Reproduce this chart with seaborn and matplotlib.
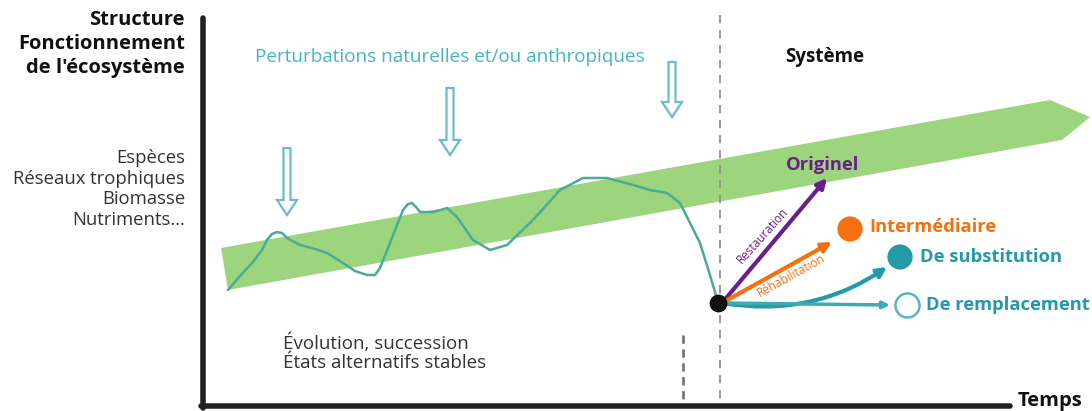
import numpy as np
import pandas as pd
import matplotlib
matplotlib.use("Agg")
import matplotlib.pyplot as plt
import matplotlib.patches as patches
import seaborn as sns

# Diagram data (picture coordinates, y grows downwards)
curve_x = [228, 240, 253, 262, 267, 272, 277, 282, 287, 300, 315, 327, 343, 355, 367, 375, 380, 390,
           403, 408, 412, 416, 420, 433, 441, 447, 457, 473, 490, 507, 533, 560, 583, 607, 633, 650,
           667, 680, 690, 700, 709, 718]
curve_y = [290, 276, 262, 250, 240, 234, 232, 233, 238, 245, 249, 253, 263, 271, 275, 275, 268, 243,
           210, 204, 203, 207, 212, 212, 210, 208, 217, 240, 250, 245, 220, 190, 178, 178, 185, 190,
           193, 203, 223, 243, 272, 302]

band_x = [221, 1050, 1090, 1062, 228]
band_y = [248, 100, 117, 140, 290]

dist_x = [287, 450, 672]
dist_top = [148, 88, 62]
dist_tip = [215, 155, 117]

outcome_names = ["Originel", "Intermédiaire", "De substitution", "De remplacement"]
outcome_colors = ["#6a1e8a", "#f5700f", "#2499a8", "#2499a8"]
arrow_tip_x = [827, 832, 887, 890]
arrow_tip_y = [178, 242, 267, 305]
dot_x = [None, 850, 900, 907]
dot_y = [None, 229, 257, 305]
label_x = [786, 869, 920, 926]
label_y = [165, 227, 257, 305]
start_x, start_y = 718, 303

left_bold = ["Structure", "Fonctionnement", "de l'écosystème"]
left_light = ["Espèces", "Réseaux trophiques", "Biomasse", "Nutriments…"]

sns.set_theme(style="white")
plt.rcParams['font.family'] = ['Open Sans', 'DejaVu Sans']

fig = plt.figure(figsize=(10.92, 4.11), dpi=100)
ax = fig.add_axes([0, 0, 1, 1])
ax.set_xlim(0, 1092)
ax.set_ylim(411, 0)
ax.axis("off")

# green trajectory band
ax.fill(band_x, band_y, color="#9dd57f", lw=0, zorder=1)

# ecosystem trajectory
df = pd.DataFrame({"x": curve_x, "y": curve_y})
sns.lineplot(data=df, x="x", y="y", ax=ax, color="#4aab96", lw=1.8, sort=False, zorder=2)

# disturbance arrows
for x, top, tip in zip(dist_x, dist_top, dist_tip):
    arr = patches.FancyArrow(x, top, 0, tip - top, width=7, head_width=20, head_length=15,
                             length_includes_head=True, fc="white", ec="#6bbcc8", lw=1.6, zorder=3)
    ax.add_patch(arr)

# axes of the diagram
ax.plot([203, 203], [18, 408], color="#222222", lw=4, solid_capstyle="round", zorder=4)
ax.plot([201, 1010], [406, 406], color="#222222", lw=4, solid_capstyle="round", zorder=4)
ax.plot([720, 720], [15, 405], color="#8a8a8a", lw=1.2, ls=(0, (5, 4)), zorder=2)
ax.plot([683, 683], [335, 405], color="#777777", lw=2, ls=(0, (3, 2)), zorder=2)

# outcome arrows
rads = [0, 0, 0.2, 0]
for i in range(3):
    props = dict(arrowstyle="-|>", lw=3, mutation_scale=14, connectionstyle=f"arc3,rad={rads[i]}",
                 color=outcome_colors[i], shrinkA=0, shrinkB=0)
    ax.annotate("", xy=(arrow_tip_x[i], arrow_tip_y[i]), xytext=(start_x + 4, start_y),
                arrowprops=props, zorder=5)
ax.annotate("", xy=(arrow_tip_x[3], arrow_tip_y[3]), xytext=(start_x + 4, start_y),
            arrowprops=dict(arrowstyle="-|>", lw=2.5, mutation_scale=10, fc="white",
                            ec="#3fa9b5", shrinkA=0, shrinkB=0), zorder=5)

# outcome dots
pts = pd.DataFrame({"x": dot_x[1:3], "y": dot_y[1:3], "c": outcome_names[1:3]})
sns.scatterplot(data=pts, x="x", y="y", hue="c", palette=outcome_colors[1:3], ax=ax, s=330,
                ec="none", zorder=6, legend=False)
ax.scatter(dot_x[3], dot_y[3], s=300, color="white", ec="#5bb3bf", lw=1.8, zorder=6)
ax.scatter(start_x, start_y, s=140, color="#111111", zorder=7)
ax.set_xlabel("")
ax.set_ylabel("")

for i in range(4):
    ax.text(label_x[i], label_y[i], outcome_names[i], color=outcome_colors[i], fontsize=13.2,
            fontweight="bold", ha="left", va="center")

ax.text(763, 236, "Restauration", color=outcome_colors[0], fontsize=8.5, rotation=48,
        ha="center", va="center", rotation_mode="anchor")
ax.text(791, 276, "Réhabilitation", color=outcome_colors[1], fontsize=8.5, rotation=29,
        ha="center", va="center", rotation_mode="anchor")

# texts
for k, t in enumerate(left_bold):
    ax.text(185, 20 + 24 * k, t, fontsize=14.5, fontweight="bold", ha="right", va="center", color="#111111")
for k, t in enumerate(left_light):
    ax.text(185, 158 + 20.5 * k, t, fontsize=13.3, ha="right", va="center", color="#333333")

ax.text(255, 57, "Perturbations naturelles et/ou anthropiques", fontsize=13.6,
        color="#45b5c3", ha="left", va="center")
ax.text(785, 57, "Système", fontsize=13.5, fontweight="bold", color="#111111", ha="left", va="center")
ax.text(283, 343, "Évolution, succession", fontsize=13.5, color="#333333", ha="left", va="center")
ax.text(283, 363, "États alternatifs stables", fontsize=13.5, color="#333333", ha="left", va="center")
ax.text(1018, 401, "Temps", fontsize=14.5, fontweight="bold", color="#111111", ha="left", va="center")

fig.savefig("out.png", dpi=100, facecolor="white")
